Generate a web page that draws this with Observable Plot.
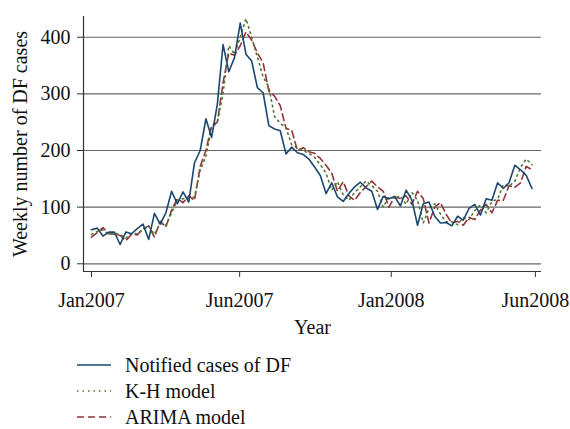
<!DOCTYPE html>
<html>
<head>
<meta charset="utf-8">
<script src="https://cdn.jsdelivr.net/npm/d3@7"></script>
<script src="https://cdn.jsdelivr.net/npm/@observablehq/plot@0.6"></script>
<style>
  body { margin: 0; background: #fff; font-family: "Liberation Serif", "Times New Roman", serif; }
  #wrap { position: relative; width: 570px; height: 429px; overflow: hidden; }
  #legend { position: absolute; left: 0; top: 0; width: 570px; }
  .row { position: absolute; left: 0; height: 24px; font-size: 20px; color: #111; }
  .row svg { position: absolute; left: 77px; top: 0; }
  .row span { position: absolute; left: 125px; top: 0; line-height: 24px; white-space: nowrap; }
</style>
</head>
<body>
<div id="wrap"><div id="chart"></div><div id="legend"></div></div>
<script>
// Week index (0 = first week of Jan 2007)
const notified = [60,63,49,56,56,34,56,53,62,70,43,89,70,90,128,106,127,109,178,200,256,223,282,387,339,364,425,370,358,311,302,244,238,235,194,206,196,193,185,171,156,124,143,118,110,124,136,144,134,128,96,119,115,119,102,130,113,68,106,109,84,72,73,67,84,77,98,105,86,115,112,143,133,143,174,166,156,133];
const khModel = [52,57,60,52,54,52,45,54,53,60,66,52,72,68,90,112,115,115,118,165,190,240,250,300,385,370,400,433,400,365,330,312,260,248,240,210,205,200,195,188,175,160,130,145,122,112,126,136,146,138,128,100,118,116,120,105,126,112,72,98,106,88,74,74,69,82,78,94,104,90,110,114,140,137,146,170,185,175];
const arimaModel = [47,55,64,53,52,50,41,52,51,62,67,47,75,65,95,115,108,120,112,172,200,244,250,320,372,368,385,409,395,372,355,305,296,279,239,236,200,205,198,195,186,174,160,128,145,120,112,126,136,146,136,128,100,118,115,120,105,128,115,72,100,108,87,72,75,68,82,78,95,105,90,112,112,138,135,143,172,166];
const xTickPos = [0, 25.9, 52.4, 77.6];
const xTickLabels = ["Jan2007", "Jun2007", "Jan2008", "Jun2008"];
const yTicks = [0, 100, 200, 300, 400];
const seriesNames = ["Notified cases of DF", "K-H model", "ARIMA model"];
const seriesColors = ["#1a476f", "#55752f", "#90353b"];
const seriesDash = [null, "1.5,4", "7,4"];

const rows = [];
[notified, khModel, arimaModel].forEach((arr, s) => {
  arr.forEach((v, i) => rows.push({series: seriesNames[s], week: i, value: v}));
});

const xDomain = [-1.4, 78.67];
const yDomain = [-13.6, 436.6];

const lineFor = (s) => Plot.line(rows.filter(d => d.series === seriesNames[s]), {
  x: "week", y: "value", stroke: seriesColors[s], strokeWidth: s === 0 ? 1.6 : 1.6,
  strokeDasharray: seriesDash[s] || undefined, strokeLinejoin: "round"
});

const chart = Plot.plot({
  width: 570,
  height: 345,
  marginLeft: 83,
  marginRight: 29,
  marginTop: 16,
  marginBottom: 74,
  style: {fontFamily: "Liberation Serif, Times New Roman, serif", fontSize: "20px", color: "#111", background: "#fff"},
  x: {domain: xDomain},
  y: {domain: yDomain},
  marks: [
    Plot.ruleY(yTicks, {stroke: "#666", strokeWidth: 1.2}),
    lineFor(2),
    lineFor(1),
    lineFor(0),
    Plot.ruleX([xDomain[0]], {stroke: "#333", strokeWidth: 1.2}),
    Plot.ruleY([yDomain[0]], {stroke: "#333", strokeWidth: 1.2}),
    Plot.axisY({ticks: yTicks, tickSize: 6, tickPadding: 7, stroke: "#333",
      label: "Weekly number of DF cases", labelAnchor: "center", labelArrow: "none", labelOffset: 71}),
    Plot.axisX({ticks: xTickPos, tickFormat: (d, i) => xTickLabels[xTickPos.indexOf(d)], tickSize: 6, tickPadding: 15, stroke: "#333",
      label: "Year", labelAnchor: "center", labelArrow: "none", labelOffset: 62})
  ]
});
document.getElementById("chart").appendChild(chart);

const legend = document.getElementById("legend");
const rowTops = [353, 379, 405];
seriesNames.forEach((name, s) => {
  const row = document.createElement("div");
  row.className = "row";
  row.style.top = rowTops[s] + "px";
  const dash = seriesDash[s] ? ` stroke-dasharray="${seriesDash[s]}"` : "";
  row.innerHTML = `<svg width="36" height="24"><line x1="0" x2="34" y1="12" y2="12" stroke="${seriesColors[s]}" stroke-width="1.6"${dash}/></svg><span>${name}</span>`;
  legend.appendChild(row);
});
</script>
</body>
</html>
